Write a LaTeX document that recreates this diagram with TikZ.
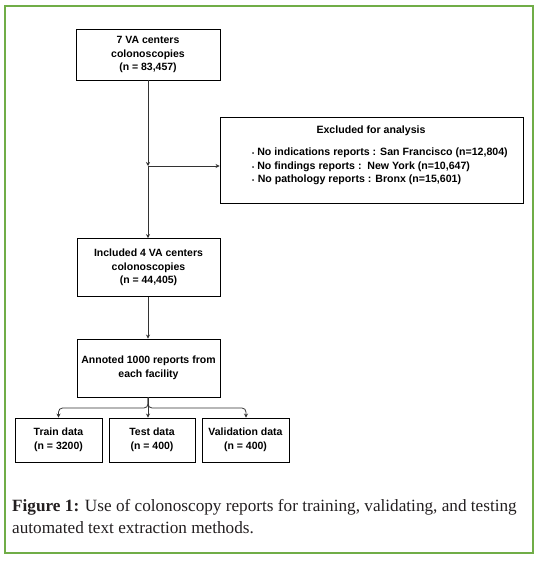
\documentclass[tikz,border=0pt]{standalone}
\usepackage{fontspec}
\setmainfont{Liberation Serif}
\setsansfont{Liberation Sans}
\usetikzlibrary{arrows.meta}
\definecolor{framegreen}{HTML}{70AD47}
\definecolor{linegray}{HTML}{333333}
\definecolor{captext}{HTML}{231F20}
\begin{document}
\begin{tikzpicture}[x=1pt,y=-1pt,
  box/.style={draw=black, line width=0.9pt, inner sep=0pt, align=center,
    font=\sffamily\bfseries\fontsize{10.5}{13.5}\selectfont},
  conn/.style={line width=0.8pt, draw=linegray, -{Stealth[length=4pt,width=4pt]}},
  exfont/.style={font=\sffamily\bfseries\fontsize{10.6}{13.5}\selectfont}
  ]
\useasboundingbox (0,0) rectangle (541,561);
\draw[framegreen, line width=1.5pt] (5,6) rectangle (533,553);

\node[box, minimum width=144pt, minimum height=51pt] (a) at (148,54.5) {7 VA centers\\colonoscopies\\(n = 83,457)};
\node[draw=black, line width=0.9pt, minimum width=303pt, minimum height=86pt, inner sep=0pt] (ex) at (371.5,160) {};
\node[exfont, inner sep=0pt] (exT) at (371,131) {Excluded for analysis};
\node[exfont, anchor=west, align=left, inner sep=0pt] (exL) at (252,166.5)
  {{\fontsize{6}{6}\selectfont•}\hspace{3pt}No indications reports : San Francisco (n=12,804)\\
   {\fontsize{6}{6}\selectfont•}\hspace{3pt}No findings reports :\ \ New York (n=10,647)\\
   {\fontsize{6}{6}\selectfont•}\hspace{3.5pt}No pathology reports : Bronx (n=15,601)};

\node[box, minimum width=143pt, minimum height=58pt] (b) at (148.5,267.5) {Included 4 VA centers\\colonoscopies\\(n = 44,405)};
\node[box, minimum width=143pt, minimum height=58pt] (c) at (148.5,368) {Annoted 1000 reports from\\each facility};

\node[box, minimum width=87pt, minimum height=44pt] (tr) at (58.5,440) {Train data\\(n = 3200)};
\node[box, minimum width=86pt, minimum height=44pt] (te) at (152,440) {Test data\\(n = 400)};
\node[box, minimum width=87pt, minimum height=44pt] (va) at (245.5,440) {Validation data\\(n = 400)};

\coordinate (j) at (148,166);
\coordinate (k) at (148,408);

\draw[conn] (a.south -| j) -- (j);
\draw[conn] (j) -- (j -| ex.west);
\draw[conn] (j) -- (b.north -| j);
\draw[conn] (b.south -| j) -- (c.north -| j);

\draw[conn, rounded corners=4pt] (c.south -| k) -- (k) -- (k -| tr.north) -- (tr.north);
\draw[conn, rounded corners=4pt] (c.south -| k) -- (k) -- (k -| 246,0) -- (va.north -| 246,0);
\draw[conn] (c.south -| k) -- (te.north -| k);

\node[anchor=north west, align=left, inner sep=0pt, text=captext,
  font=\fontsize{17.2}{22}\selectfont] (cap) at (12,499)
  {\textbf{Figure 1:} Use of colonoscopy reports for training, validating, and testing\\
   automated text extraction methods.};
\end{tikzpicture}
\end{document}
